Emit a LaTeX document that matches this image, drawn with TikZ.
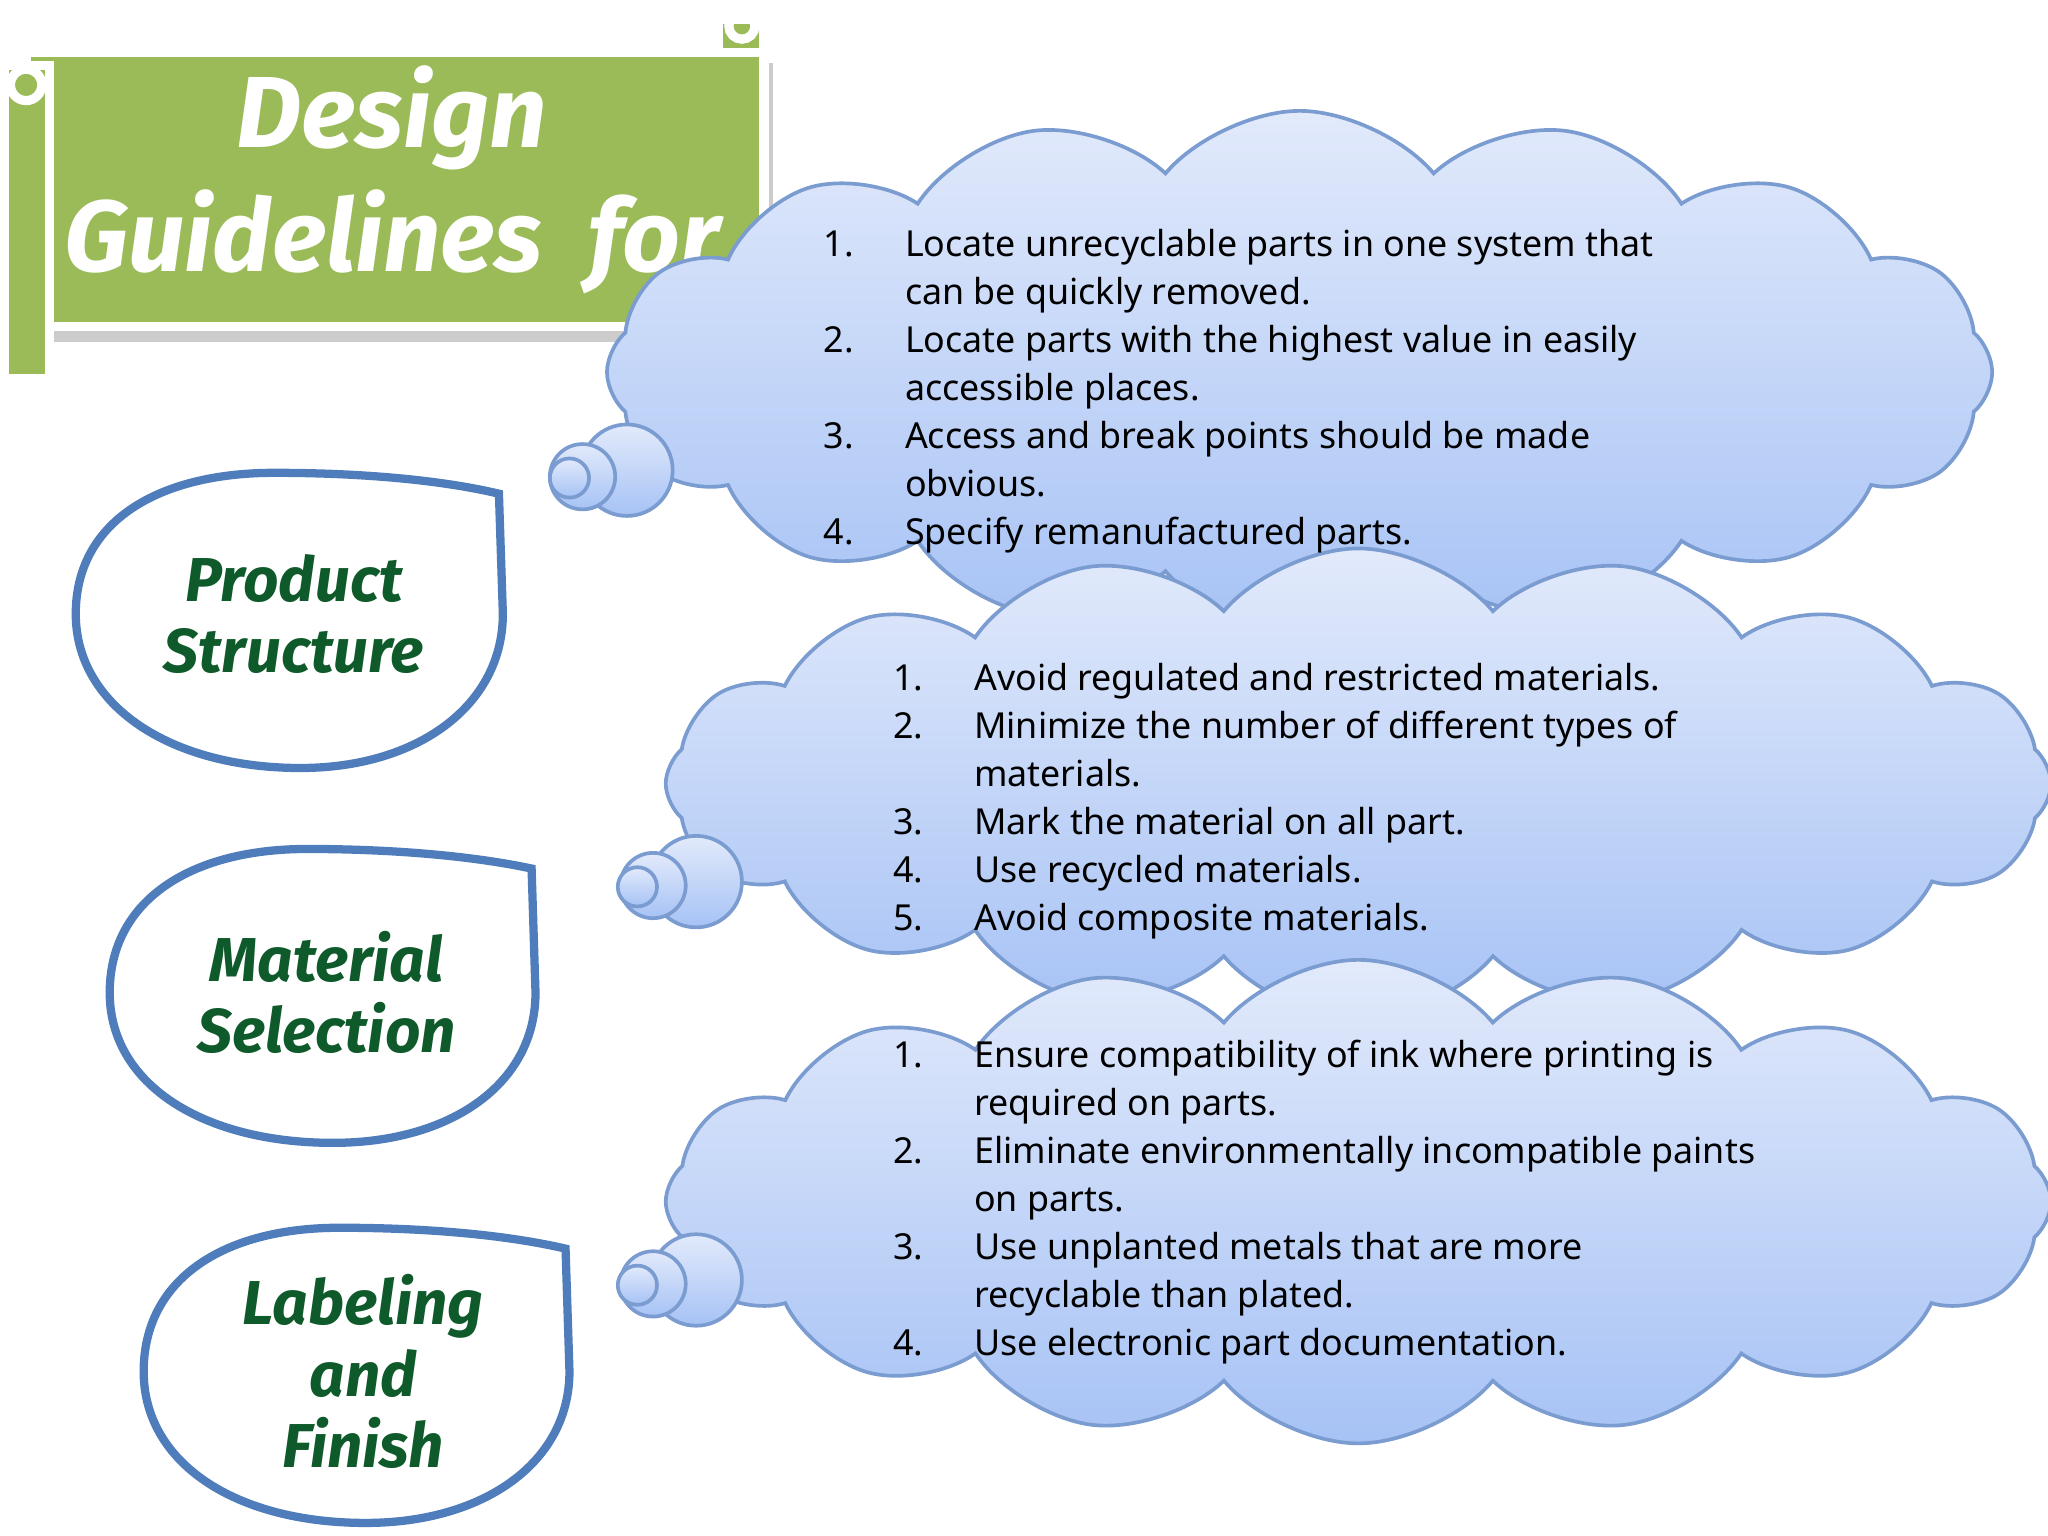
\documentclass[tikz,border=0pt]{standalone}
\usepackage{fontspec}
\setmainfont{Noto Sans}
\newfontfamily\hand{Fira Sans}
\usetikzlibrary{shapes.symbols,shadings}
\definecolor{bannergreen}{HTML}{9BBB59}
\definecolor{dropblue}{HTML}{4F7DBB}
\definecolor{dgreen}{HTML}{0F5A2A}
\definecolor{cloudtop}{HTML}{E2EAFB}
\definecolor{cloudbot}{HTML}{A6C2F5}
\definecolor{cloudline}{HTML}{7B9CD0}
\tikzset{
  px/.style={x=0.01cm,y=-0.01cm},
  cl/.style={cloud, cloud puffs=16, cloud puff arc=100, draw=cloudline, thick, top color=cloudtop, bottom color=cloudbot},
  bub/.style={circle, draw=cloudline, thick, top color=cloudtop, bottom color=cloudbot, inner sep=0pt},
  drop/.style={draw=dropblue, line width=1.8pt, fill=white},
  droptext/.style={text=dgreen, font=\hand\bfseries\itshape\fontsize{13.5}{15.5}\selectfont, align=center},
  list/.style={font=\fontsize{7.8}{10.45}\selectfont, align=left, anchor=north west, inner sep=0pt}
}
\begin{document}
\begin{tikzpicture}[px]
\useasboundingbox (0,0) rectangle (1568,1176);
% banner
\fill[gray!40] (12,48) rectangle (592,262);
\filldraw[bannergreen, draw=white, line width=2pt] (20,40) rectangle (585,250);
\filldraw[bannergreen, draw=white, line width=2pt] (3,50) rectangle (38,290);
\filldraw[bannergreen, draw=white, line width=2pt] (550,15) rectangle (585,40);
\draw[white, line width=2pt] (20,65) circle (12);
\draw[white, line width=2pt] (568,20) circle (10);
\node[text=white, font=\hand\bfseries\itshape\fontsize{22}{27}\selectfont, align=center] (title) at (300,138) {Design\\Guidelines\ \ for};
% clouds
\node[cl, minimum width=10.6cm, minimum height=4.0cm] (c1) at (995,285) {};
\node[bub, minimum size=0.7cm] (b1a) at (480,360) {};
\node[bub, minimum size=0.5cm] (b1b) at (446,365) {};
\node[bub, minimum size=0.3cm] (b1c) at (436,366) {};
\node[cl, minimum width=10.6cm, minimum height=3.6cm] (c2) at (1040,600) {};
\node[bub, minimum size=0.7cm] (b2a) at (533,675) {};
\node[bub, minimum size=0.5cm] (b2b) at (500,678) {};
\node[bub, minimum size=0.3cm] (b2c) at (488,679) {};
\node[cl, minimum width=10.6cm, minimum height=3.7cm] (c3) at (1040,920) {};
\node[bub, minimum size=0.7cm] (b3a) at (533,980) {};
\node[bub, minimum size=0.5cm] (b3b) at (500,983) {};
\node[bub, minimum size=0.3cm] (b3c) at (488,984) {};
% lists
\node[list] (l1) at (630,170) {\begin{tabular}{@{}p{0.2cm}l@{}}
1. & Locate unrecyclable parts in one system that\\
   & can be quickly removed.\\
2. & Locate parts with the highest value in easily\\
   & accessible places.\\
3. & Access and break points should be made\\
   & obvious.\\
4. & Specify remanufactured parts.
\end{tabular}};
\node[list] (l2) at (683,502) {\begin{tabular}{@{}p{0.2cm}l@{}}
1. & Avoid regulated and restricted materials.\\
2. & Minimize the number of different types of\\
   & materials.\\
3. & Mark the material on all part.\\
4. & Use recycled materials.\\
5. & Avoid composite materials.
\end{tabular}};
\node[list] (l3) at (683,791) {\begin{tabular}{@{}p{0.2cm}l@{}}
1. & Ensure compatibility of ink where printing is\\
   & required on parts.\\
2. & Eliminate environmentally incompatible paints\\
   & on parts.\\
3. & Use unplanted metals that are more\\
   & recyclable than plated.\\
4. & Use electronic part documentation.
\end{tabular}};
% drops
\draw[drop] (382,378) -- (385,470) .. controls (385,540) and (320,588) .. (230,588)
  .. controls (130,588) and (58,540) .. (58,470) .. controls (58,400) and (120,362) .. (210,362)
  .. controls (280,362) and (340,368) .. cycle;
\node[droptext] (d1) at (225,470) {Product\\Structure};
\draw[drop] (407,665) -- (410,760) .. controls (410,830) and (345,875) .. (255,875)
  .. controls (155,875) and (84,830) .. (84,760) .. controls (84,690) and (145,650) .. (235,650)
  .. controls (305,650) and (365,656) .. cycle;
\node[droptext] (d2) at (250,760) {Material\\Selection};
\draw[drop] (433,956) -- (436,1050) .. controls (436,1120) and (370,1166) .. (280,1166)
  .. controls (180,1166) and (110,1120) .. (110,1050) .. controls (110,980) and (170,940) .. (260,940)
  .. controls (330,940) and (390,946) .. cycle;
\node[droptext] (d3) at (278,1050) {Labeling\\and\\Finish};
\end{tikzpicture}
\end{document}
